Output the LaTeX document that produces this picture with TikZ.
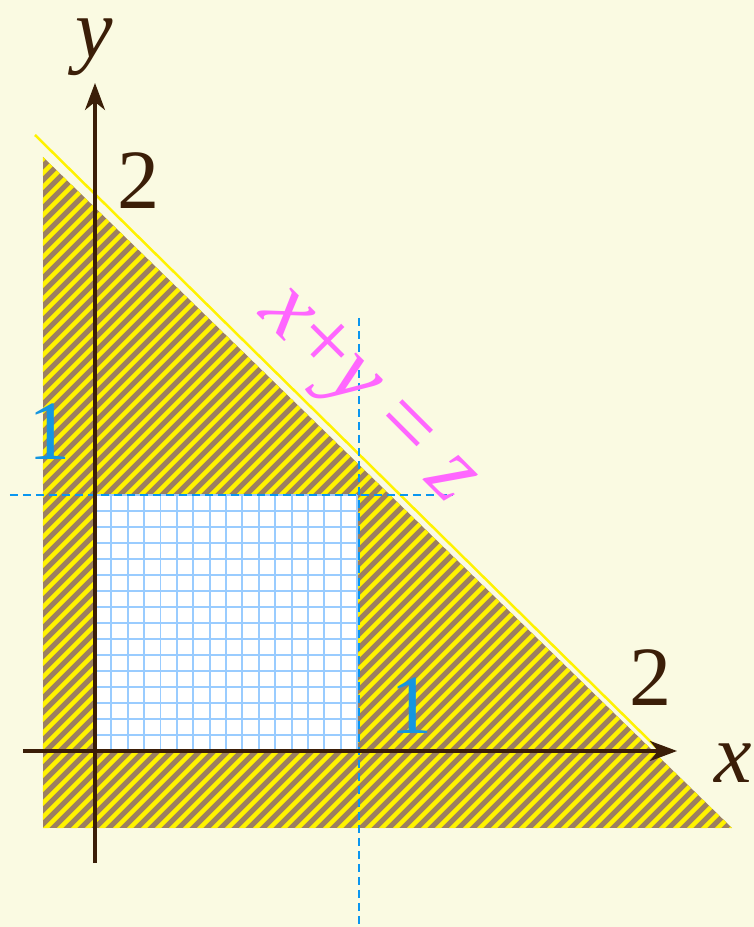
\documentclass[tikz,border=0pt]{standalone}
\usepackage{fontspec}
\setmainfont{Liberation Serif}
\usetikzlibrary{arrows.meta}
\definecolor{bgcream}{HTML}{FAFAE2}
\definecolor{hatchbrown}{HTML}{9C7F60}
\definecolor{axisbrown}{HTML}{3B1E08}
\definecolor{gridblue}{HTML}{99CCFF}
\definecolor{dashblue}{HTML}{0A96F0}
\definecolor{onesblue}{HTML}{1596E0}
\definecolor{labelpink}{HTML}{FF66FF}
\pgfmathsetmacro{\myw}{262}
\pgfmathsetmacro{\myh}{256}
\pgfmathsetmacro{\mys}{14}
\newcommand{\mybig}{\fontsize{48}{56}\selectfont}
\tikzset{
  axis/.style={draw=axisbrown, line width=1.8pt, -{Stealth[length=0.54cm, width=0.4cm, inset=0.16cm]}},
  stripe/.style={yellow, line width=0.09cm},
  guide/.style={draw=dashblue, line width=0.04cm, dash pattern=on 0.16cm off 0.1cm},
  numlabel/.style={text=axisbrown, font=\mybig, inner sep=0pt},
  onelabel/.style={text=onesblue, font=\mybig, inner sep=0pt}
}

\begin{document}
\begin{tikzpicture}[x=0.02cm, y=0.02cm]

\fill[bgcream] (-95,-176) rectangle (659,751);
\useasboundingbox (-95,-176) rectangle (659,751);

% region under the line
\begin{scope}
\clip (-52,-77) -- (-52,594) -- (637,-77) -- cycle;
\fill[hatchbrown] (-52,-77) rectangle (637,594);
\foreach \k in {-48,...,52}
  \draw[stripe] (\k*\mys-800,-800) -- (\k*\mys+800,800);
\end{scope}

% unit square
\fill[white] (0,0) rectangle (\myw,\myh);
\draw[gridblue, line width=0.04cm, xstep=\myw/16, ystep=\myh/16] (0,0) grid (\myw,\myh);

% the line x+y=z
\coordinate (ls) at (-60,616);
\coordinate (le) at (562,3);
\draw[yellow, line width=0.05cm] (ls) -- (le);

\coordinate (hs) at (-85,\myh);
\coordinate (he) at (358,\myh);
\coordinate (vs) at (264,433);
\coordinate (ve) at (264,-176);
\draw[guide] (hs) -- (he);
\draw[guide] (vs) -- (ve);

% axes
\coordinate (xs) at (-72,0);
\coordinate (xe) at (582,0);
\coordinate (ys) at (0,-112);
\coordinate (ye) at (0,668);
\draw[axis] (xs) -- (xe);
\draw[axis] (ys) -- (ye);

\node[numlabel] (xlab) at (638,-12) {\textit{x}};
\node[numlabel] (ylab) at (-1,704) {\textit{y}};
\node[numlabel] (ytwo) at (44,570) {2};
\node[numlabel] (xtwo) at (556,73) {2};
\node[onelabel] (yone) at (-45,319) {1};
\node[onelabel] (xone) at (317,45) {1};
\node[text=labelpink, font=\fontsize{53}{60}\selectfont, inner sep=0pt, rotate=-45] (eqlab) at (270,352) {\textit{x}+\textit{y} = \textit{z}};
\end{tikzpicture}
\end{document}
